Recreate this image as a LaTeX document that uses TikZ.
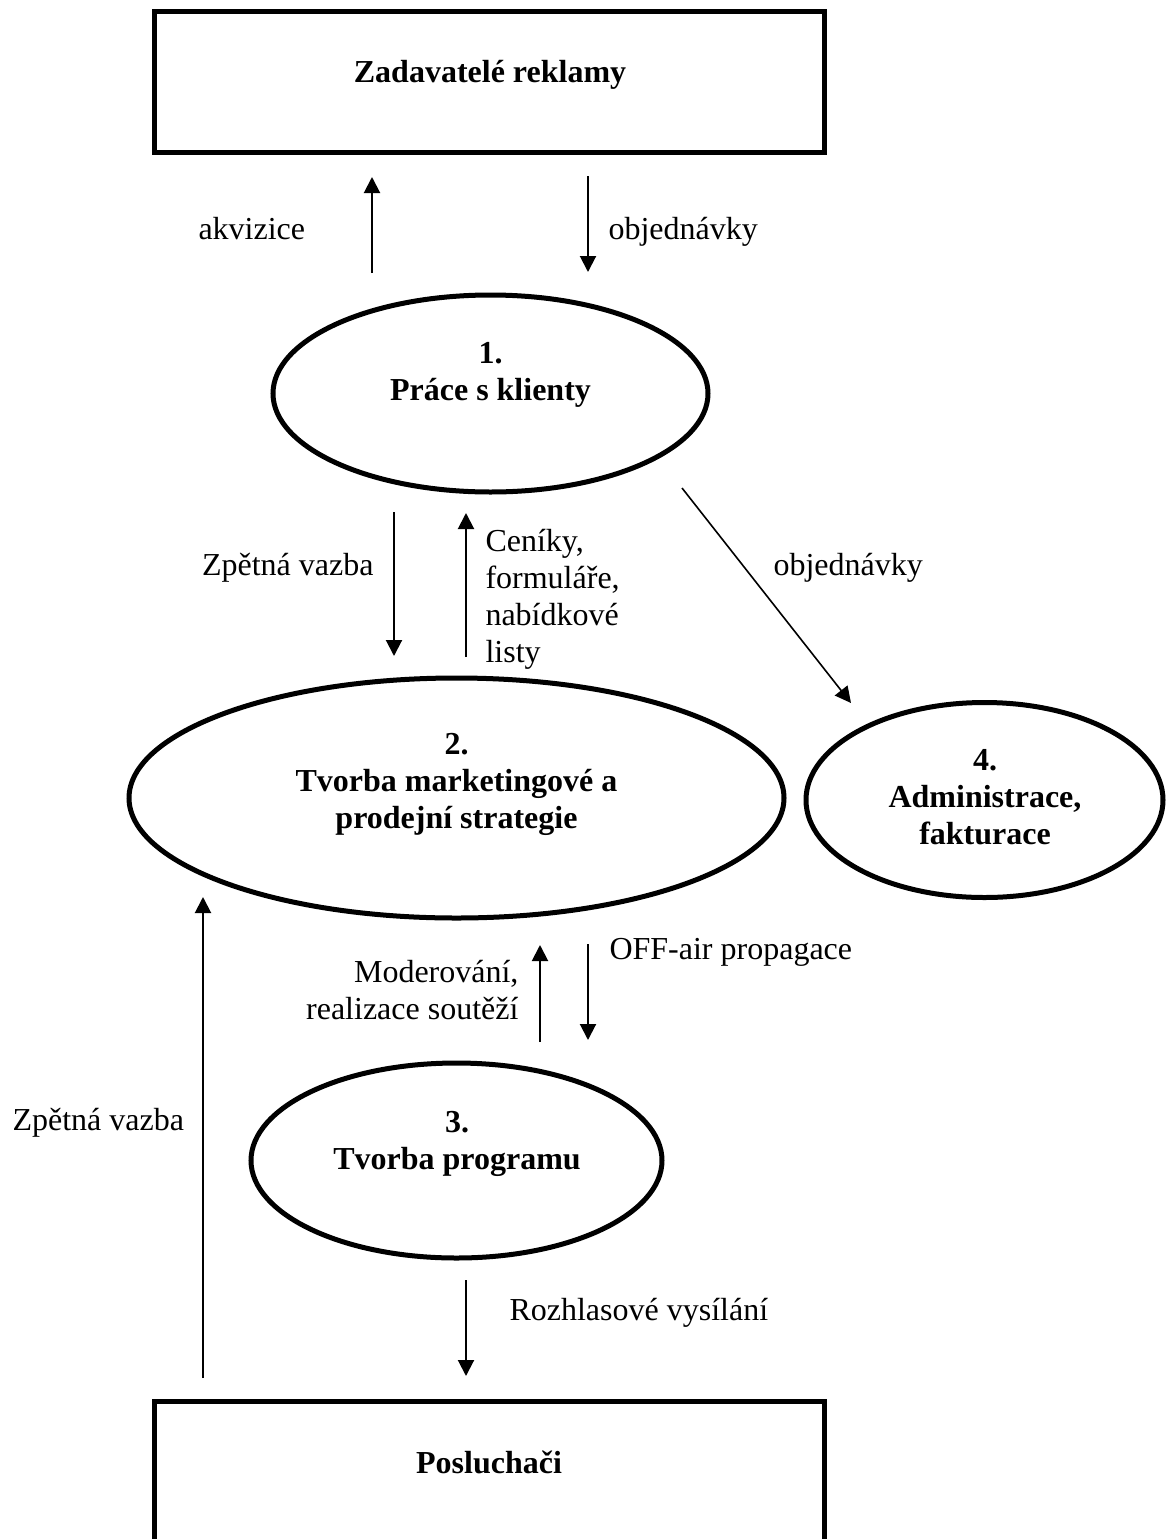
\documentclass[tikz,border=0pt]{standalone}
\usepackage{fontspec}
\setmainfont{Liberation Serif}
\usetikzlibrary{arrows.meta,shapes.geometric}

% one drawing unit = 0.375pt, y axis pointing down
\tikzset{
  stage/.style={ellipse, draw, line width=1.875pt, inner sep=0pt},
  party/.style={rectangle, draw, line width=1.875pt, inner sep=0pt},
  flow/.style={line width=0.75pt, -{Triangle[length=6pt,width=6pt]}},
  lbl/.style={inner sep=0pt, font=\fontsize{12pt}{13.875pt}\selectfont},
  title/.style={inner sep=0pt, font=\fontsize{12pt}{13.875pt}\selectfont\bfseries},
}
% stacked lines whose baseline is the first line
\newcommand\linesof[2]{\begin{tabular}[t]{@{}#1@{}}#2\end{tabular}}

\begin{document}
\begin{tikzpicture}[x=0.375pt, y=-0.375pt]
\useasboundingbox (0,0) rectangle (1172,1539);
\clip (0,0) rectangle (1172,1539);

% --- outside parties
\node[party, minimum width={669.5*0.375pt}, minimum height={141*0.375pt}] (advertisers) at (489.25,81.5) {};
\node[title, anchor=base] (advertisersText) at (490,82) {Zadavatelé reklamy};

\node[party, minimum width={669.5*0.375pt}, minimum height={318*0.375pt}] (listeners) at (489.25,1560) {};
\node[title, anchor=base] (listenersText) at (489,1473) {Posluchači};

% --- processes
\node[stage, minimum width={435*0.375pt}, minimum height={197*0.375pt}] (clients) at (490.5,393.5) {};
\node[title, anchor=base] (clientsText) at (490.5,363) {\linesof{c}{1.\\Práce s klienty}};

\node[stage, minimum width={655*0.375pt}, minimum height={240*0.375pt}] (strategy) at (456.5,798) {};
\node[title, anchor=base] (strategyText) at (456.5,754) {\linesof{c}{2.\\Tvorba marketingové a\\prodejní strategie}};

\node[stage, minimum width={357*0.375pt}, minimum height={195*0.375pt}] (billing) at (984.5,800) {};
\node[title, anchor=base] (billingText) at (985,770) {\linesof{c}{4.\\Administrace,\\fakturace}};

\node[stage, minimum width={411*0.375pt}, minimum height={195*0.375pt}] (programme) at (456.5,1160.5) {};
\node[title, anchor=base] (programmeText) at (457,1132) {\linesof{c}{3.\\Tvorba programu}};

% --- flow end points
\coordinate (acqFrom) at (372,273);   \coordinate (acqTo) at (372,177);
\coordinate (ordFrom) at (588,176);   \coordinate (ordTo) at (588,272);
\coordinate (fbFrom) at (394,512);    \coordinate (fbTo) at (394,656);
\coordinate (priceFrom) at (466,657); \coordinate (priceTo) at (466,513);
\coordinate (billFrom) at (682,488);  \coordinate (billTo) at (851,703);
\coordinate (lfbFrom) at (203,1378);  \coordinate (lfbTo) at (203,897);
\coordinate (modFrom) at (540,1042);  \coordinate (modTo) at (540,945);
\coordinate (offFrom) at (588,944);   \coordinate (offTo) at (588,1040);
\coordinate (airFrom) at (466,1280);  \coordinate (airTo) at (466,1376);

% --- flows
\draw[flow] (acqFrom) -- (acqTo);
\draw[flow] (ordFrom) -- (ordTo);
\draw[flow] (fbFrom) -- (fbTo);
\draw[flow] (priceFrom) -- (priceTo);
\draw[flow, line width=0.6pt] (billFrom) -- (billTo);
\draw[flow] (lfbFrom) -- (lfbTo);
\draw[flow] (modFrom) -- (modTo);
\draw[flow] (offFrom) -- (offTo);
\draw[flow] (airFrom) -- (airTo);

% --- flow labels
\node[lbl, anchor=base west] (acqLabel) at (198,239) {akvizice};
\node[lbl, anchor=base west] (ordLabel) at (608,239) {objednávky};
\node[lbl, anchor=base east] (fbLabel) at (374,575) {Zpětná vazba};
\node[lbl, anchor=base west] (priceLabel) at (485,551) {\linesof{l}{Ceníky,\\formuláře,\\nabídkové\\listy}};
\node[lbl, anchor=base west] (billLabel) at (773,575) {objednávky};
\node[lbl, anchor=base west] (offLabel) at (609,959) {OFF-air propagace};
\node[lbl, anchor=base east] (modLabel) at (519,982) {\linesof{r}{Moderování,\\realizace soutěží}};
\node[lbl, anchor=base west] (lfbLabel) at (12,1130) {Zpětná vazba};
\node[lbl, anchor=base west] (airLabel) at (509,1320) {Rozhlasové vysílání};
\end{tikzpicture}
\end{document}
